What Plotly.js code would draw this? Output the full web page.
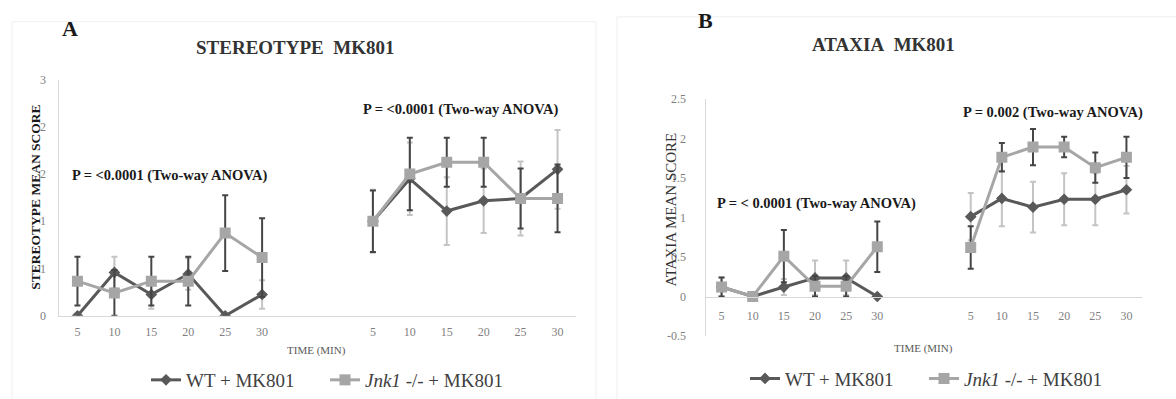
<!DOCTYPE html>
<html><head><meta charset="utf-8">
<script src="https://cdn.plot.ly/plotly-3.0.1.min.js"></script>
<style>html,body{margin:0;padding:0;background:#fff}#chart{width:1176px;height:399px}</style>
</head><body><div id="chart"></div><script>
// ---------- data ----------
const timeLabels = [5, 10, 15, 20, 25, 30];
const seriesNames = ['WT + MK801', '<i>Jnk1</i> -/- + MK801'];

// Panel A: stereotype (first block / second block)
const stereoWT_1      = [0, 0.55, 0.27, 0.53, 0, 0.27];
const stereoWT_1_err  = [0, 0.2, 0.18, 0.2, 0, 0.18];
const stereoJnk_1     = [0.44, 0.29, 0.44, 0.44, 1.05, 0.74];
const stereoJnk_1_err = [0.31, 0.29, 0.31, 0.31, 0.48, 0.5];
const stereoWT_2      = [1.2, 1.74, 1.33, 1.46, 1.49, 1.86];
const stereoWT_2_err  = [0.4, 0.46, 0.43, 0.41, 0.47, 0.5];
const stereoJnk_2     = [1.2, 1.8, 1.95, 1.95, 1.49, 1.49];
const stereoJnk_2_err = [0.39, 0.46, 0.31, 0.31, 0.38, 0.43];
const stereoTickVals  = [0, 0.6, 1.2, 1.8, 2.4, 3];
const stereoTickText  = ['0', '1', '1', '2', '2', '3'];

// Panel B: ataxia
const ataxiaWT_1      = [0.12, 0, 0.12, 0.235, 0.235, 0];
const ataxiaWT_1_err  = [0.12, 0, 0.1, 0.22, 0.22, 0];
const ataxiaJnk_1     = [0.12, 0, 0.51, 0.13, 0.13, 0.63];
const ataxiaJnk_1_err = [0.12, 0, 0.33, 0.13, 0.13, 0.32];
const ataxiaWT_2      = [1.01, 1.24, 1.13, 1.23, 1.23, 1.35];
const ataxiaWT_2_err  = [0.3, 0.35, 0.32, 0.33, 0.33, 0.3];
const ataxiaJnk_2     = [0.62, 1.76, 1.89, 1.89, 1.63, 1.76];
const ataxiaJnk_2_err = [0.27, 0.18, 0.23, 0.13, 0.19, 0.26];
const ataxiaTickVals  = [-0.5, 0, 0.5, 1, 1.5, 2, 2.5];
const ataxiaTickText  = ['-0.5', '0', '0.5', '1', '1.5', '2', '2.5'];

const pTextA1 = 'P = <0.0001 (Two-way ANOVA)';
const pTextA2 = 'P = <0.0001 (Two-way ANOVA)';
const pTextB1 = 'P = < 0.0001 (Two-way ANOVA)';
const pTextB2 = 'P = 0.002 (Two-way ANOVA)';

// ---------- helpers ----------
const W = 1176, H = 399, MB = 55, PH = H - MB;
const PX = x => x / W, PY = y => 1 - y / PH;
const GAP = 2;
const n = timeLabels.length;
const xPos = Array.from({length: 2 * n + GAP}, (_, i) => i);
const join = (a, b) => [...a, ...Array(GAP).fill(null), ...b];
const tickVals = [...timeLabels.map((_, i) => i), ...timeLabels.map((_, i) => i + n + GAP)];
const tickTxt = [...timeLabels.map(String), ...timeLabels.map(String)];

const SERIF = 'Liberation Serif';
const DARK = '#595959', LIGHT = '#a6a6a6';
const ERR_DARK = '#454545', ERR_LIGHT = '#c4c4c4';

function mk(y, err, isWT, xa, ya, leg) {
  return {
    type: 'scatter', mode: 'lines+markers', x: xPos, y: y,
    xaxis: xa, yaxis: ya, legend: leg, showlegend: true,
    name: isWT ? seriesNames[0] : seriesNames[1],
    connectgaps: false,
    line: {color: isWT ? DARK : LIGHT, width: 3},
    marker: {symbol: isWT ? 'diamond' : 'square', size: isWT ? 9 : 11, color: isWT ? DARK : LIGHT},
    error_y: {type: 'data', array: err, visible: true, color: isWT ? ERR_LIGHT : ERR_DARK, thickness: 2, width: 3}
  };
}

const data = [
  mk(join(stereoWT_1, stereoWT_2), join(stereoWT_1_err, stereoWT_2_err), true, 'x', 'y', 'legend'),
  mk(join(stereoJnk_1, stereoJnk_2), join(stereoJnk_1_err, stereoJnk_2_err), false, 'x', 'y', 'legend'),
  mk(join(ataxiaWT_1, ataxiaWT_2), join(ataxiaWT_1_err, ataxiaWT_2_err), true, 'x2', 'y2', 'legend2'),
  mk(join(ataxiaJnk_1, ataxiaJnk_2), join(ataxiaJnk_1_err, ataxiaJnk_2_err), false, 'x2', 'y2', 'legend2')
];

// plot areas (pixels from top-left of the page)
const A = {x0: 59, x1: 576, y0: 80.5, y1: 319.5};
const B = {x0: 706, x1: 1142, y0: 100, y1: 340};
const bRange = [-0.5, 2.5];
const bZeroPaper = PY(B.y1) + (0 - bRange[0]) / (bRange[1] - bRange[0]) * (PY(B.y0) - PY(B.y1));

const axisLine = '#d9d9d9';
const tickFont = {family: SERIF, size: 12, color: '#7f7f7f'};
const legFont = {family: SERIF, size: 19, color: '#404040'};

const layout = {
  width: W, height: H, margin: {l: 0, r: 0, t: 0, b: MB},
  font: {family: SERIF, color: '#404040'},
  paper_bgcolor: '#fff', plot_bgcolor: 'rgba(0,0,0,0)',
  showlegend: true,
  xaxis: {domain: [PX(A.x0), PX(A.x1)], range: [-0.5, 2 * n + GAP - 0.5], anchor: 'y',
    tickvals: tickVals, ticktext: tickTxt, showgrid: false, zeroline: false,
    showline: true, linecolor: axisLine, linewidth: 1.5, ticks: '', tickfont: tickFont, ticklabelstandoff: 4},
  yaxis: {domain: [PY(A.y1), PY(A.y0)], range: [0, 3], anchor: 'x',
    tickvals: stereoTickVals, ticktext: stereoTickText, showgrid: false, zeroline: false,
    showline: true, linecolor: axisLine, linewidth: 1.5, ticks: '', tickfont: tickFont, ticklabelstandoff: 9},
  xaxis2: {domain: [PX(B.x0), PX(B.x1)], range: [-0.5, 2 * n + GAP - 0.5], anchor: 'free', position: bZeroPaper,
    tickvals: tickVals, ticktext: tickTxt, showgrid: false, zeroline: false,
    showline: true, linecolor: axisLine, linewidth: 1.5, ticks: '', tickfont: tickFont, ticklabelstandoff: 8},
  yaxis2: {domain: [PY(B.y1), PY(B.y0)], range: bRange, anchor: 'x2',
    tickvals: ataxiaTickVals, ticktext: ataxiaTickText, showgrid: false, zeroline: false,
    showline: true, linecolor: axisLine, linewidth: 1.5, ticks: '', tickfont: tickFont, ticklabelstandoff: 16},
  legend: {orientation: 'h', x: PX(146), y: PY(385), xanchor: 'left', yanchor: 'middle',
    font: legFont, bgcolor: 'rgba(0,0,0,0)', itemwidth: 30, entrywidth: 134, entrywidthmode: 'pixels'},
  legend2: {orientation: 'h', x: PX(745), y: PY(383), xanchor: 'left', yanchor: 'middle',
    font: legFont, bgcolor: 'rgba(0,0,0,0)', itemwidth: 30, entrywidth: 134, entrywidthmode: 'pixels'},
  shapes: [
    {type: 'rect', xref: 'paper', yref: 'paper', x0: PX(12), x1: PX(596), y0: PY(420), y1: PY(22),
      line: {color: '#efefef', width: 1}},
    {type: 'rect', xref: 'paper', yref: 'paper', x0: PX(617), x1: PX(1200), y0: PY(420), y1: PY(17),
      line: {color: '#efefef', width: 1}}
  ],
  annotations: [
    {text: '<b>A</b>', x: PX(70), y: PY(29), font: {family: SERIF, size: 22, color: '#1a1a1a'}},
    {text: '<b>STEREOTYPE\u00a0 MK801</b>', x: PX(295), y: PY(48), font: {family: SERIF, size: 19, color: '#333'}},
    {text: '<b>B</b>', x: PX(705), y: PY(21), font: {family: SERIF, size: 22, color: '#1a1a1a'}},
    {text: '<b>ATAXIA\u00a0 MK801</b>', x: PX(884), y: PY(45), font: {family: SERIF, size: 19, color: '#333'}},
    {text: '<b>' + pTextA1.replace('<', '&lt;') + '</b>', x: PX(70), y: PY(178), xanchor: 'left', font: {family: SERIF, size: 14.5, color: '#1a1a1a'}},
    {text: '<b>' + pTextA2.replace('<', '&lt;') + '</b>', x: PX(361), y: PY(111), xanchor: 'left', font: {family: SERIF, size: 14.5, color: '#1a1a1a'}},
    {text: '<b>' + pTextB1.replace('<', '&lt;') + '</b>', x: PX(715), y: PY(206), xanchor: 'left', font: {family: SERIF, size: 14.5, color: '#1a1a1a'}},
    {text: '<b>' + pTextB2.replace('<', '&lt;') + '</b>', x: PX(961), y: PY(114), xanchor: 'left', font: {family: SERIF, size: 14.5, color: '#1a1a1a'}},
    {text: '<b>STEREOTYPE MEAN SCORE</b>', x: PX(36), y: PY(200), textangle: -90, font: {family: SERIF, size: 13.5, color: '#1a1a1a'}},
    {text: 'ATAXIA MEAN SCORE', x: PX(671), y: PY(212), textangle: -90, font: {family: SERIF, size: 15, color: '#333'}},
    {text: 'TIME (MIN)', x: PX(316), y: PY(355), font: {family: SERIF, size: 11, color: '#595959'}},
    {text: 'TIME (MIN)', x: PX(923), y: PY(353), font: {family: SERIF, size: 11, color: '#595959'}}
  ].map(a => Object.assign({xref: 'paper', yref: 'paper', showarrow: false, xanchor: 'center', yanchor: 'middle'}, a))
};

Plotly.newPlot('chart', data, layout, {displayModeBar: false, staticPlot: true});
</script></body></html>
